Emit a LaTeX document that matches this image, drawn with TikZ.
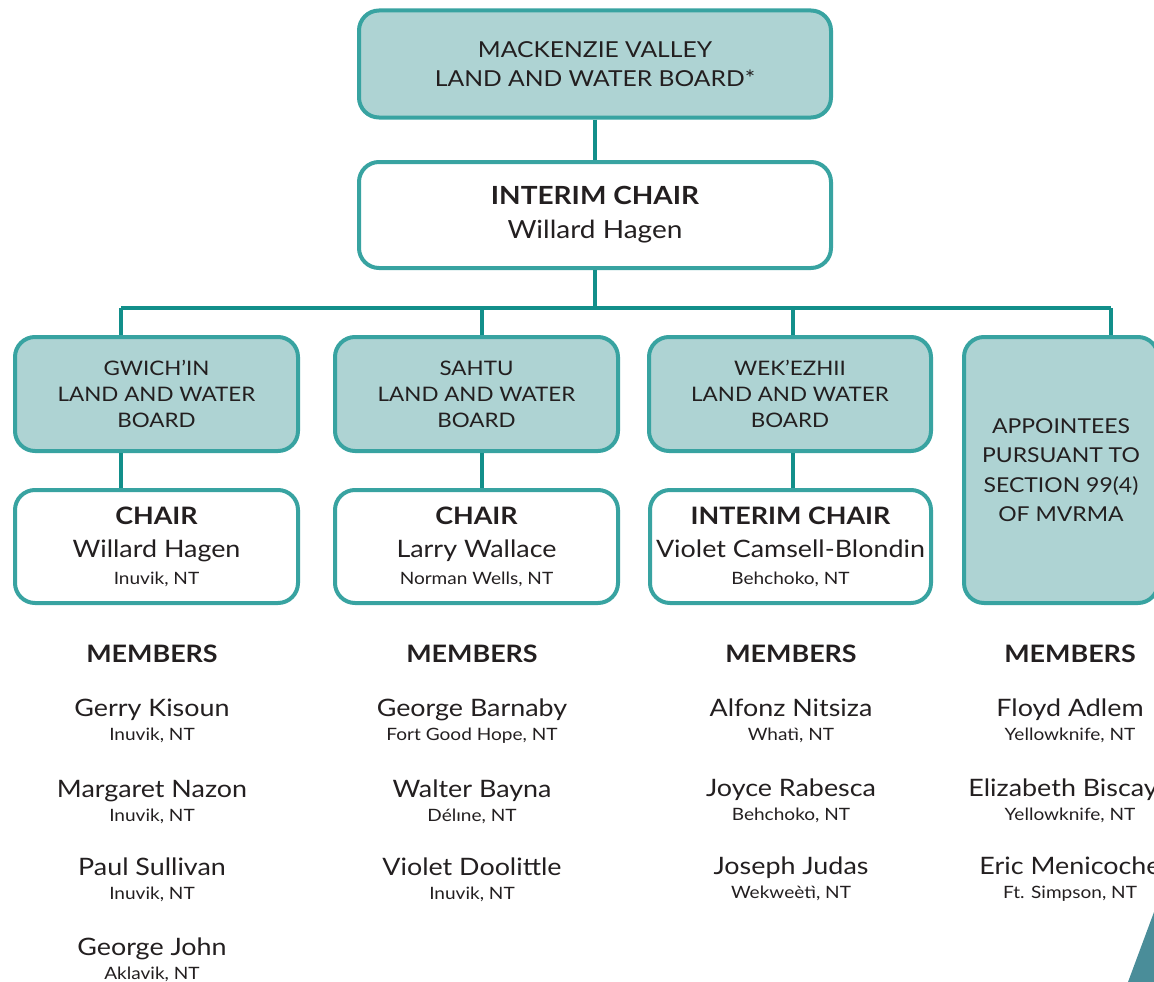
\documentclass[tikz,border=0pt]{standalone}
\usepackage{fontspec}
\setmainfont{Lato}[FakeStretch=1.12]
\usetikzlibrary{positioning}

\definecolor{boardfill}{HTML}{AED3D3}
\definecolor{boardline}{HTML}{38A3A1}
\definecolor{linkline}{HTML}{128F8A}
\definecolor{inktext}{HTML}{231F20}
\definecolor{cornerteal}{HTML}{4A8D99}

\tikzset{
  board/.style={draw=boardline, fill=boardfill, line width=4pt, rounded corners=20pt,
    align=center, text=inktext, inner sep=0pt, font=\fontsize{20}{26}\selectfont},
  chairbox/.style={draw=boardline, fill=white, line width=4pt, rounded corners=20pt,
    align=center, text=inktext, inner sep=0pt, font=\fontsize{24}{34}\selectfont},
  link/.style={draw=linkline, line width=4pt},
  members/.style={text=inktext, font=\bfseries\fontsize{24}{30}\selectfont},
  member/.style={text=inktext, align=center, font=\fontsize{24}{24}\selectfont},
}
\newcommand{\place}[1]{{\fontsize{17}{20}\selectfont #1}}

\begin{document}
\begin{tikzpicture}[x=1pt, y=-1pt]
    \useasboundingbox (0,0) rectangle (1154,982);
    \clip (0,0) rectangle (1154,982);

    % Top of the tree
    \node[board, minimum width=472, minimum height=107, font=\fontsize{22}{29}\selectfont]
        (mvlwb) at (595,64) {MACKENZIE VALLEY\\LAND AND WATER BOARD*};
    \node[chairbox, minimum width=472, minimum height=106, font=\fontsize{25}{34}\selectfont]
        (ichair) at (595,215) {\textbf{INTERIM CHAIR}\\Willard Hagen};
    \draw[link] (mvlwb.south) -- (ichair.north);

    % Regional boards
    \node[board, minimum width=283, minimum height=114] (gwich) at (156.5,394)
        {GWICH’IN\\LAND AND WATER\\BOARD};
    \node[board, minimum width=283, minimum height=114] (sahtu) at (476.5,394)
        {SAHTU\\LAND AND WATER\\BOARD};
    \node[board, minimum width=282, minimum height=114] (wek) at (790,394)
        {WEK’EZHII\\LAND AND WATER\\BOARD};
    \node[board, minimum width=194, minimum height=266, font=\fontsize{20.5}{29.5}\selectfont]
        (appt) at (1061,470) {APPOINTEES\\PURSUANT TO\\SECTION 99(4)\\OF MVRMA};

    % Bus from the interim chair
    \coordinate (tapG) at (121,308);
    \coordinate (tapS) at (482,308);
    \coordinate (tapW) at (793,308);
    \coordinate (tapA) at (1111,308);
    \draw[link] (ichair.south) -- (ichair.south |- tapG);
    \draw[link] (tapG) -- (tapA);
    \draw[link] (tapG) -- (tapG |- gwich.north);
    \draw[link] (tapS) -- (tapS |- sahtu.north);
    \draw[link] (tapW) -- (tapW |- wek.north);
    \draw[link] (tapA) -- (tapA |- appt.north);

    % Chairs
    \node[chairbox, minimum width=283, minimum height=113] (gwchair) at (156.5,546.5)
        {\textbf{CHAIR}\\[-1pt]Willard Hagen\\[-7pt]\place{Inuvik, NT}};
    \node[chairbox, minimum width=283, minimum height=113] (sachair) at (476.5,546.5)
        {\textbf{CHAIR}\\[-1pt]Larry Wallace\\[-7pt]\place{Norman Wells, NT}};
    \node[chairbox, minimum width=281, minimum height=113] (wkchair) at (790.5,546.5)
        {\textbf{INTERIM CHAIR}\\[-1pt]Violet Camsell-Blondin\\[-7pt]\place{Behchoko, NT}};
    \draw[link] (tapG |- gwich.south) -- (tapG |- gwchair.north);
    \draw[link] (tapS |- sahtu.south) -- (tapS |- sachair.north);
    \draw[link] (tapW |- wek.south) -- (tapW |- wkchair.north);

    % Members
    \node[members] (gmem) at (152,654) {MEMBERS};
    \node[members] (smem) at (472,654) {MEMBERS};
    \node[members] (wmem) at (791,654) {MEMBERS};
    \node[members] (amem) at (1070,654) {MEMBERS};

    \node[member] (g1) at (152,721) {Gerry Kisoun\\\place{Inuvik, NT}};
    \node[member] (g2) at (152,802) {Margaret Nazon\\\place{Inuvik, NT}};
    \node[member] (g3) at (152,880) {Paul Sullivan\\\place{Inuvik, NT}};
    \node[member] (g4) at (152,960) {George John\\\place{Aklavik, NT}};

    \node[member] (s1) at (472,721) {George Barnaby\\\place{Fort Good Hope, NT}};
    \node[member] (s2) at (472,802) {Walter Bayna\\\place{Délıne, NT}};
    \node[member] (s3) at (472,880) {Violet Doolittle\\\place{Inuvik, NT}};

    \node[member] (w1) at (791,721) {Alfonz Nitsiza\\\place{Whatì, NT}};
    \node[member] (w2) at (791,801) {Joyce Rabesca\\\place{Behchoko, NT}};
    \node[member] (w3) at (791,879) {Joseph Judas\\\place{Wekweètì, NT}};

    \node[member] (a1) at (1070,721) {Floyd Adlem\\\place{Yellowknife, NT}};
    \node[member] (a2) at (1070,801) {Elizabeth Biscaye\\\place{Yellowknife, NT}};
    \node[member] (a3) at (1070,879) {Eric Menicoche\\\place{Ft. Simpson, NT}};

    % Corner of the page art
    \fill[cornerteal] (1128,982) -- (1154,912) -- (1154,982) -- cycle;
\end{tikzpicture}
\end{document}
